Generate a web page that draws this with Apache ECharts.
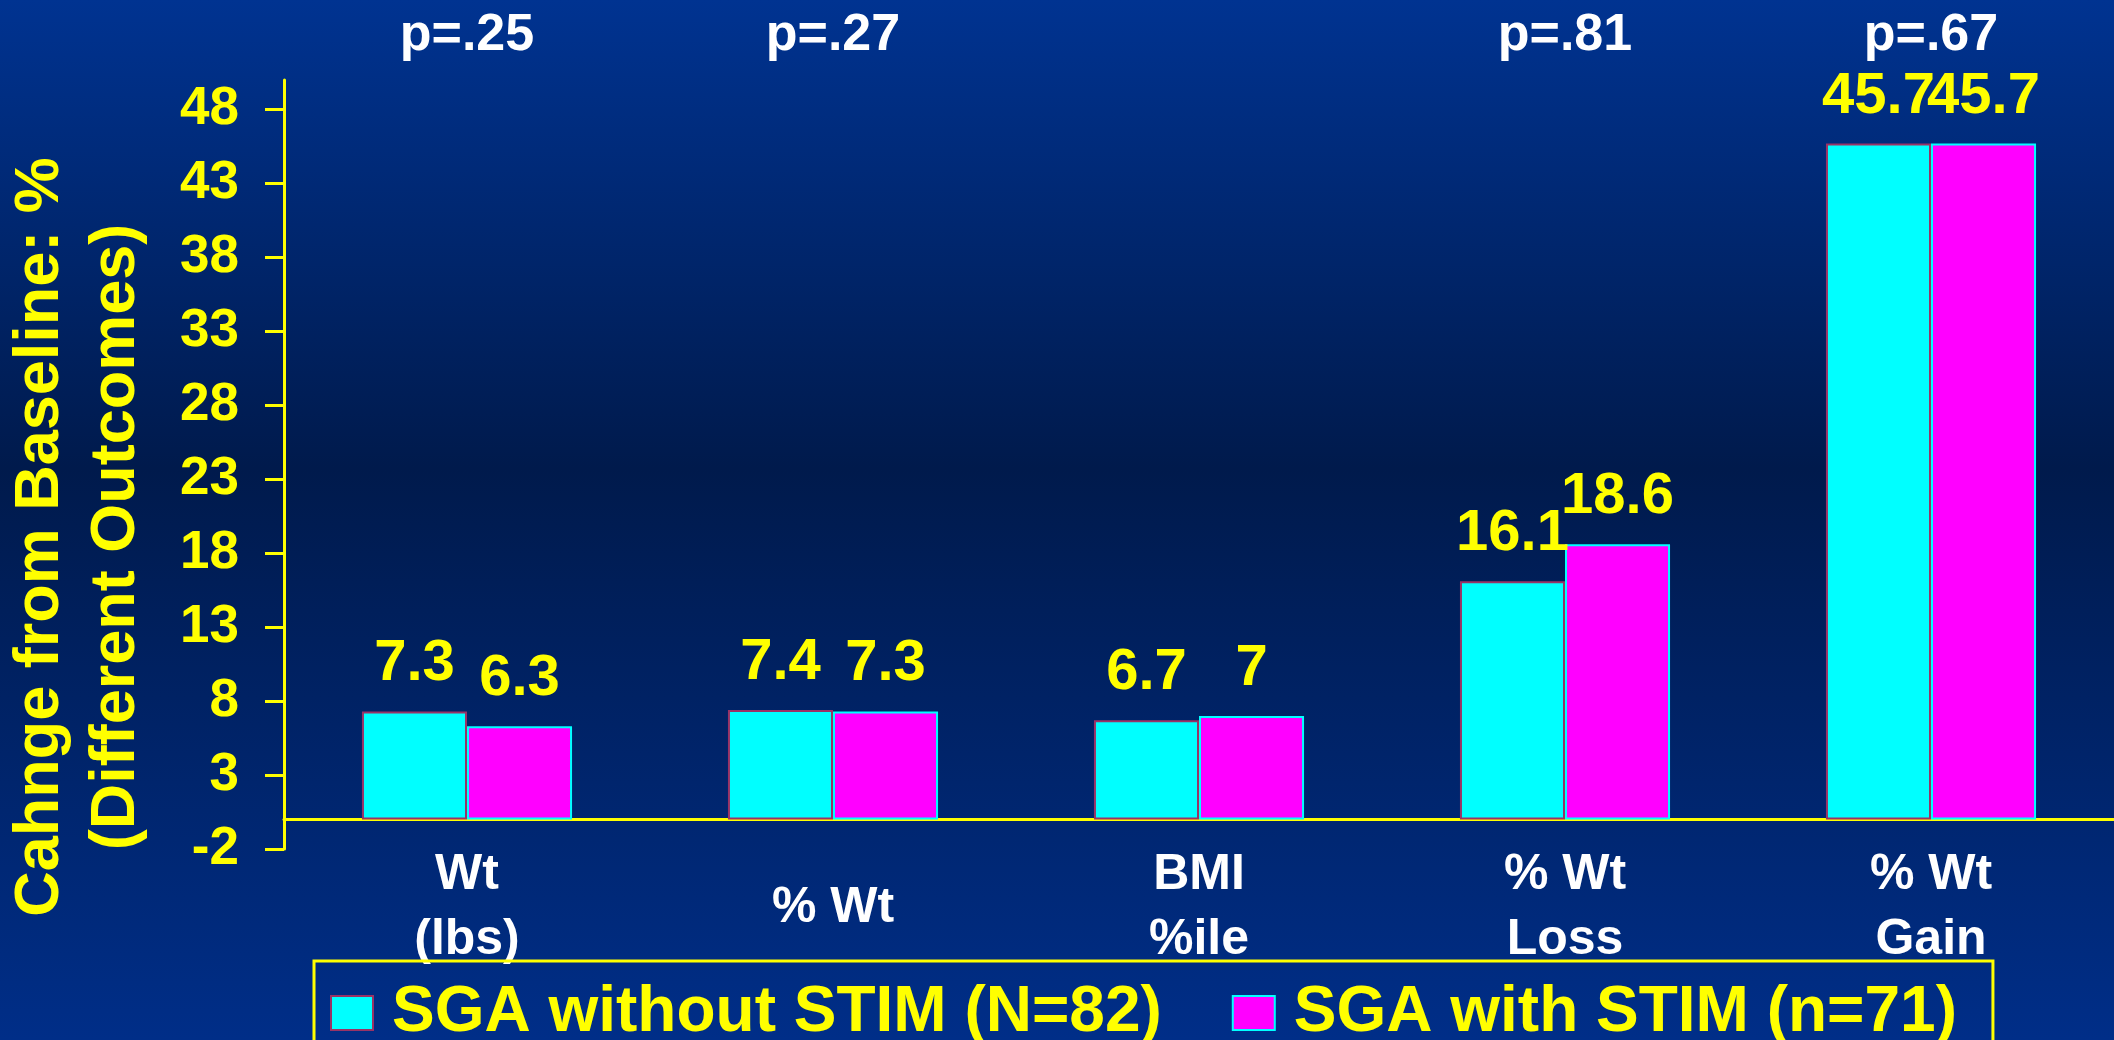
<!DOCTYPE html>
<html>
<head>
<meta charset="utf-8">
<script src="https://cdn.jsdelivr.net/npm/echarts@6/dist/echarts.min.js"></script>
<style>
  html, body { margin: 0; padding: 0; }
  #chart { width: 2114px; height: 1040px; }
</style>
</head>
<body>
<div id="chart"></div>
<script>
// data
var categories = ['Wt\n(lbs)', '% Wt', 'BMI\n%ile', '% Wt\nLoss', '% Wt\nGain'];
var pValues = ['p=.25', 'p=.27', '', 'p=.81', 'p=.67'];
var withoutStim = [7.3, 7.4, 6.7, 16.1, 45.7];
var withStim = [6.3, 7.3, 7, 18.6, 45.7];
var yTicks = [-2, 3, 8, 13, 18, 23, 28, 33, 38, 43, 48];
var seriesNames = ['SGA without STIM (N=82)', 'SGA with STIM (n=71)'];
var yTitle = 'Cahnge from Baseline: %\n(Different Outcomes)';

var font = 'Liberation Sans, Arial, Helvetica, sans-serif';
var yellow = '#ffff00';

var chart = echarts.init(document.getElementById('chart'));

var option = {
    backgroundColor: {
        type: 'linear', x: 0, y: 0, x2: 0, y2: 1,
        colorStops: [
            {offset: 0, color: '#003391'},
            {offset: 0.45, color: '#001a4c'},
            {offset: 1, color: '#002e88'}
        ]
    },
    textStyle: {fontFamily: font, fontWeight: 'bold'},
    grid: {left: 284, right: 0, top: 80, bottom: 191, containLabel: false},
    legend: {
        data: seriesNames,
        left: 314,
        top: 961,
        icon: 'rect',
        itemWidth: 42,
        itemHeight: 34,
        itemGap: 70,
        borderColor: yellow,
        borderWidth: 3,
        padding: [20, 36, 40, 16],
        textStyle: {color: yellow, fontSize: 64, fontWeight: 'bold', fontFamily: font, padding: [0, 0, 0, 14]}
    },
    xAxis: [{
        type: 'category',
        data: categories,
        axisLine: {onZero: true, lineStyle: {color: yellow, width: 3}},
        axisTick: {show: false},
        axisLabel: {
            color: '#ffffff', fontSize: 50, fontWeight: 'bold', fontFamily: font,
            lineHeight: 65, verticalAlign: 'middle', margin: 59, interval: 0
        }
    }, {
        // p-values sit on a top axis over the same categories
        type: 'category',
        position: 'top',
        data: pValues,
        axisLine: {show: false, onZero: false},
        axisTick: {show: false},
        axisLabel: {
            color: '#ffffff', fontSize: 52, fontWeight: 'bold', fontFamily: font,
            verticalAlign: 'middle', margin: 44, interval: 0
        }
    }],
    yAxis: {
        type: 'value',
        min: -2,
        max: 50,
        splitLine: {show: false},
        axisLine: {show: true, lineStyle: {color: yellow, width: 3}},
        axisTick: {show: true, length: 19, customValues: yTicks, lineStyle: {color: yellow, width: 3}},
        axisLabel: {
            customValues: yTicks,
            color: yellow, fontSize: 53, fontWeight: 'bold', fontFamily: font, margin: 45
        }
    },
    graphic: [{
        type: 'text',
        x: 79,
        y: 537,
        rotation: Math.PI / 2,
        style: {
            text: yTitle,
            fill: yellow,
            font: 'bold 63px ' + font,
            lineHeight: 76,
            align: 'center',
            verticalAlign: 'middle'
        }
    }],
    series: [{
        name: seriesNames[0],
        type: 'bar',
        data: withoutStim,
        barGap: 0,
        barCategoryGap: '42.6%',
        itemStyle: {color: '#00ffff', borderColor: '#993366', borderWidth: 2},
        label: {show: true, position: 'top', distance: 18, color: yellow, fontSize: 58, fontWeight: 'bold', fontFamily: font}
    }, {
        name: seriesNames[1],
        type: 'bar',
        data: withStim,
        itemStyle: {color: '#ff00ff', borderColor: '#00ffff', borderWidth: 2},
        label: {show: true, position: 'top', distance: 18, color: yellow, fontSize: 58, fontWeight: 'bold', fontFamily: font}
    }]
};

chart.setOption(option);
</script>
</body>
</html>
